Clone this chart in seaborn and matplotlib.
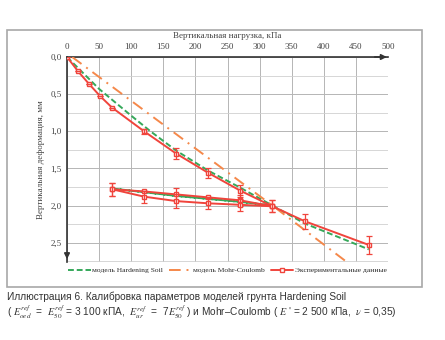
import numpy as np
import pandas as pd
import seaborn as sns
import matplotlib.pyplot as plt
from matplotlib.patches import Rectangle
from matplotlib.ticker import MultipleLocator, FuncFormatter

# Экспериментальные данные: нагружение, разгрузка, повторное нагружение
x_load = [0, 17, 35, 52, 70, 120, 170, 220, 270, 320]
y_load = [0, 0.19, 0.37, 0.53, 0.68, 1.00, 1.30, 1.56, 1.80, 2.01]
e_load = [0, 0, 0, 0, 0, 0.03, 0.07, 0.07, 0.08, 0.08]

x_unl = [320, 270, 220, 170, 120, 70]
y_unl = [2.01, 1.93, 1.89, 1.85, 1.81, 1.78]
e_unl = [0, 0.07, 0, 0.08, 0, 0.09]

x_rel = [70, 120, 170, 220, 270, 320, 370, 470]
y_rel = [1.78, 1.88, 1.94, 1.97, 1.99, 2.01, 2.21, 2.53]
e_rel = [0.09, 0.08, 0.09, 0.07, 0.08, 0.08, 0.1, 0.12]

# модель Hardening Soil
x_hs = [0, 50, 100, 130, 170, 220, 270, 320, 270, 170, 70, 170, 270, 320, 370, 470]
y_hs = [0, 0.43, 0.79, 1.0, 1.26, 1.53, 1.76, 2.0, 1.95, 1.87, 1.77, 1.87, 1.95, 2.0, 2.24, 2.59]

# модель Mohr-Coulomb
x_mc = [8, 320, 480]
y_mc = [0, 2.0, 3.05]

RED = '#f0443c'
GREEN = '#35a85a'
ORANGE = '#f5884a'

sns.set_style('white')
plt.rcParams['font.family'] = ['Liberation Serif', 'DejaVu Serif']
plt.rcParams['mathtext.fontset'] = 'stix'

fig = plt.figure(figsize=(4.45, 3.4), dpi=100)
fig.patches.append(Rectangle((7 / 445, 53 / 340), 415 / 445, 257 / 340,
                             transform=fig.transFigure, fill=False,
                             edgecolor='#a8a8a8', lw=1.2, zorder=0))
ax = fig.add_axes([67 / 445, 78 / 340, 321 / 445, 205 / 340])

df_hs = pd.DataFrame({'x': x_hs, 'y': y_hs})
df_mc = pd.DataFrame({'x': x_mc, 'y': y_mc})
sns.lineplot(data=df_hs, x='x', y='y', sort=False, estimator=None, ax=ax,
             color=GREEN, lw=1.4, ls=(0, (3, 1.5)), label='модель Hardening Soil', zorder=3)
sns.lineplot(data=df_mc, x='x', y='y', sort=False, estimator=None, ax=ax,
             color=ORANGE, lw=1.4, ls=(0, (6, 3, 1, 3)), label='модель Mohr-Coulomb', zorder=3)

first = True
for xs, ys, es in [(x_load, y_load, e_load), (x_unl, y_unl, e_unl), (x_rel, y_rel, e_rel)]:
    d = pd.DataFrame({'x': xs, 'y': ys})
    sns.lineplot(data=d, x='x', y='y', sort=False, estimator=None, ax=ax,
                 color=RED, lw=1.4, marker='s', markersize=3.5,
                 markerfacecolor='white', markeredgecolor=RED, markeredgewidth=1,
                 label='Экспериментальные данные' if first else None, zorder=4)
    first = False
    ax.errorbar(xs, ys, yerr=es, fmt='none', ecolor=RED, elinewidth=0.9,
                capsize=2, capthick=0.9, zorder=4)

ax.set_xlim(0, 500)
ax.set_ylim(2.76, 0)
ax.xaxis.set_major_locator(MultipleLocator(50))
ax.yaxis.set_major_locator(MultipleLocator(0.5))
ax.yaxis.set_minor_locator(MultipleLocator(0.25))
ax.yaxis.set_major_formatter(FuncFormatter(lambda v, p: f'{v:.1f}'.replace('.', ',')))
ax.xaxis.tick_top()
ax.xaxis.set_label_position('top')
ax.tick_params(axis='both', which='both', length=0, labelsize=6.5, pad=4, colors='#444444')
ax.grid(True, which='major', color='#b5b5b5', lw=0.7)
ax.grid(True, which='minor', color='#d0d0d0', lw=0.6)
for s in ['right', 'bottom']:
    ax.spines[s].set_visible(False)
for s in ['left', 'top']:
    ax.spines[s].set_color('#333333')
    ax.spines[s].set_linewidth(1.2)
ax.annotate('', xy=(1.005, 1), xytext=(0.95, 1), xycoords='axes fraction',
            arrowprops=dict(arrowstyle='-|>', color='#333333', lw=1.2, mutation_scale=8))
ax.annotate('', xy=(0, 0), xytext=(0, 0.05), xycoords='axes fraction',
            arrowprops=dict(arrowstyle='-|>', color='#333333', lw=1.2, mutation_scale=8))

ax.set_xlabel('Вертикальная нагрузка, кПа', fontsize=6.5, labelpad=4, color='#444444')
ax.set_ylabel('Вертикальная деформация, мм', fontsize=6.5, labelpad=4, color='#444444')

ax.legend(loc='upper center', bbox_to_anchor=(0.5, -0.01), ncol=3, frameon=False,
          fontsize=5.4, handlelength=3.0, handletextpad=0.2, columnspacing=0.8,
          borderaxespad=0)

cap = {'family': ['Liberation Sans', 'DejaVu Sans'], 'fontsize': 7.3, 'color': '#333333'}
fig.text(7 / 445, 1 - 297 / 340, 'Иллюстрация 6. Калибровка параметров моделей грунта Hardening Soil',
         va='center', ha='left', **cap)
fig.text(7 / 445, 1 - 312 / 340,
         r'( $E_{oed}^{ref}$  =  $E_{50}^{ref}$ = 3 100 кПА,  $E_{ur}^{ref}$  =  7$E_{50}^{ref}$ ) '
         r'и Mohr–Coulomb ( $E$ ' + "' = 2 500 кПа,  " + r'$\nu$ = 0,35)',
         va='center', ha='left', **cap)

fig.savefig('out.png', dpi=100)
